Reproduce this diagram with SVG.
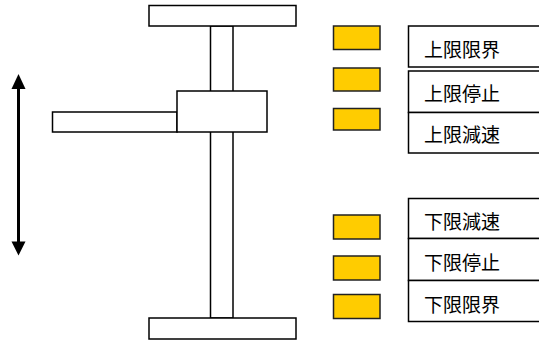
<svg xmlns="http://www.w3.org/2000/svg" width="539" height="341" viewBox="0 0 539 341">
<style>
.part{fill:#fff;stroke:#000;stroke-width:1.5}
.lamp{fill:#FFCC00;stroke:#222;stroke-width:1.5}
.lbl{fill:#fff;stroke:#000;stroke-width:1.5}
.t{font-family:"Noto Sans CJK JP","Noto Sans CJK SC",sans-serif;font-size:19px;fill:#000}
</style>
<g id="machine">
<rect class="part" x="210.5" y="26" width="22.5" height="292"/>
<rect class="part" x="149" y="5.5" width="147" height="20.5"/>
<rect class="part" x="149" y="318" width="147" height="21"/>
<rect class="part" x="52.5" y="112" width="124.5" height="20"/>
<rect class="part" x="177" y="91" width="90" height="41"/>
</g>
<g id="connectors">
<line x1="18.5" y1="86" x2="18.5" y2="244" stroke="#000" stroke-width="3"/>
<polygon points="18.5,74 11.5,89 25.5,89" fill="#000"/>
<polygon points="18.5,255.5 11.5,241.5 25.5,241.5" fill="#000"/>
</g>
<g id="upper-limit">
<rect class="lamp" x="333.5" y="26" width="46.5" height="23.5"/>
<rect class="lbl" x="408.5" y="26" width="140" height="41"/>
<text class="t" x="424" y="56.5">上限限界</text>
</g>
<g id="upper-stop">
<rect class="lamp" x="333.5" y="68" width="46.5" height="23"/>
<rect class="lbl" x="408.5" y="71" width="140" height="41.5"/>
<text class="t" x="424" y="100.5">上限停止</text>
</g>
<g id="upper-slow">
<rect class="lamp" x="333.5" y="108.5" width="46.5" height="21.5"/>
<rect class="lbl" x="408.5" y="112.5" width="140" height="40.5"/>
<text class="t" x="424" y="141.5">上限減速</text>
</g>
<g id="lower-slow">
<rect class="lamp" x="333.5" y="215" width="46.5" height="24"/>
<rect class="lbl" x="408.5" y="198.5" width="140" height="40"/>
<text class="t" x="424" y="229">下限減速</text>
</g>
<g id="lower-stop">
<rect class="lamp" x="333.5" y="256" width="46.5" height="24"/>
<rect class="lbl" x="408.5" y="238.5" width="140" height="42"/>
<text class="t" x="424" y="270">下限停止</text>
</g>
<g id="lower-limit">
<rect class="lamp" x="333.5" y="294.5" width="46.5" height="24"/>
<rect class="lbl" x="408.5" y="280.5" width="140" height="41"/>
<text class="t" x="424" y="312">下限限界</text>
</g>
</svg>
